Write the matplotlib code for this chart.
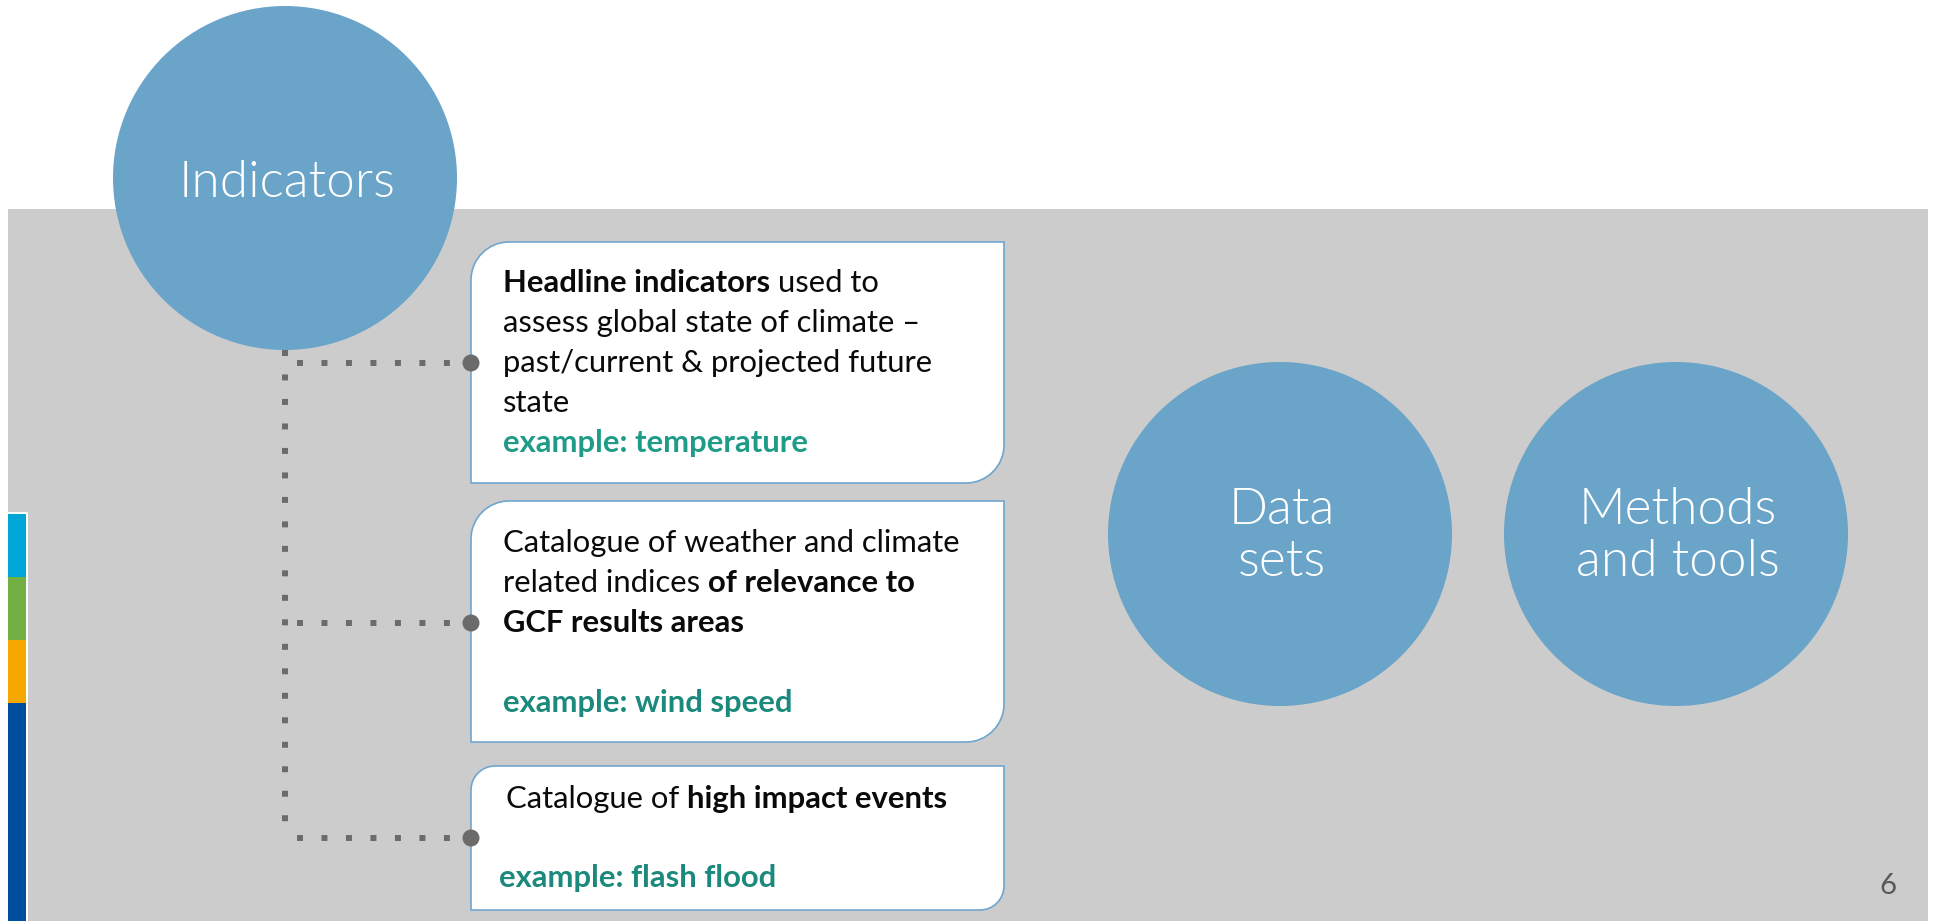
import matplotlib.pyplot as plt
import matplotlib.patches as mpatches
from matplotlib.path import Path
import numpy as np

W, H = 1937, 921
plt.rcParams['font.family'] = ['Lato', 'DejaVu Sans']

### content
circle_labels = ['Indicators', 'Data\nsets', 'Methods\nand tools']
circle_centres = [(285, 178), (1280, 534), (1676, 534)]
circle_r = 172

# each box: list of lines, each line a list of (text, bold?, colour key)
box_lines = [
    [[('Headline indicators', True, 'k'), (' used to', False, 'k')],
     [('assess global state of climate \u2013', False, 'k')],
     [('past/current & projected future', False, 'k')],
     [('state', False, 'k')],
     [('example: temperature', True, 't1')]],
    [[('Catalogue of weather and climate', False, 'k')],
     [('related indices ', False, 'k'), ('of relevance to', True, 'k')],
     [('GCF results areas', True, 'k')],
     [],
     [('example: wind speed', True, 't2')]],
    [[('Catalogue of ', False, 'k'), ('high impact events', True, 'k')],
     [],
     [('example: flash flood', True, 't2')]],
]
box_rects = [(471, 242, 1004, 483), (471, 501, 1004, 742), (471, 766, 1004, 910)]
box_radius = [38, 38, 24]
box_text_x = [[503]*5, [503]*5, [506, 506, 499]]
box_first_base = [292, 552, 808]
line_gap = [40, 40, 39.5]
dot_y = [363, 623, 838]

strip_cols = ['#00a6d6', '#72b043', '#f7a800', '#004f9e']
strip_edges = [514, 577, 640, 703, 921]

colours = {'k': '#0a0a0a', 't1': '#1f9c88', 't2': '#1b8a7c'}
circle_col = '#6aa4c8'
edge_col = '#6fa6cf'
dot_col = '#6b6b6b'
body_size = 22.3

fig = plt.figure(figsize=(W/100, H/100), dpi=100)
fig.patch.set_facecolor('white')
ax = fig.add_axes([0, 0, 1, 1])
ax.set_xlim(0, W)
ax.set_ylim(H, 0)
ax.axis('off')

# grey panel
ax.add_patch(mpatches.Rectangle((8, 209), 1920, H-209, fc='#cccccc', ec='none', zorder=0))

# colour strip at the left
ax.add_patch(mpatches.Rectangle((8, strip_edges[0]-2), 20, H, fc='white', ec='none', zorder=1))
for c, y0, y1 in zip(strip_cols, strip_edges[:-1], strip_edges[1:]):
    ax.add_patch(mpatches.Rectangle((8, y0), 18, y1-y0, fc=c, ec='none', zorder=2))

# circles
for (cx, cy), lab in zip(circle_centres, circle_labels):
    ax.add_patch(mpatches.Circle((cx, cy), circle_r, fc=circle_col, ec='none', zorder=3))
    dy = 5 if '\n' not in lab else 2
    ax.text(cx+2, cy+dy, lab, ha='center', va='center', color='white', fontsize=37,
            fontweight=300, linespacing=1.17, zorder=4)

# dotted connectors
dot_kw = dict(color=dot_col, lw=4.3, ls=(0, (1, 3.1)), solid_capstyle='butt',
              dash_capstyle='butt', zorder=2)
ax.plot([285, 285], [350, 839], **dot_kw)
for y in dot_y:
    ax.plot([297, 460], [y, y], **dot_kw)


def box_path(x0, y0, x1, y1, r):
    k = 0.5523 * r
    verts = [(x0+r, y0), (x1, y0), (x1, y1-r),
             (x1, y1-r+k), (x1-r+k, y1), (x1-r, y1),
             (x0, y1), (x0, y0+r),
             (x0, y0+r-k), (x0+r-k, y0), (x0+r, y0),
             (x0+r, y0)]
    codes = [Path.MOVETO, Path.LINETO, Path.LINETO,
             Path.CURVE4, Path.CURVE4, Path.CURVE4,
             Path.LINETO, Path.LINETO,
             Path.CURVE4, Path.CURVE4, Path.CURVE4,
             Path.CLOSEPOLY]
    return Path(verts, codes)


renderer = fig.canvas.get_renderer()


def text_w(s, bold):
    t = ax.text(0, 0, s, fontsize=body_size, fontweight='bold' if bold else 'normal')
    w = t.get_window_extent(renderer).width
    t.remove()
    return w


def space_w(bold):
    return text_w('a a', bold) - text_w('aa', bold)


for i, (x0, y0, x1, y1) in enumerate(box_rects):
    ax.add_patch(mpatches.PathPatch(box_path(x0, y0, x1, y1, box_radius[i]),
                                    fc='white', ec=edge_col, lw=1.2, zorder=3))
    ax.add_patch(mpatches.Circle((x0, dot_y[i]), 8.5, fc=dot_col, ec='none', zorder=4))
    for j, line in enumerate(box_lines[i]):
        x = box_text_x[i][j]
        y = box_first_base[i] + j*line_gap[i]
        for s, bold, ck in line:
            core = s.strip(' ')
            x += (len(s) - len(s.lstrip(' '))) * space_w(bold)
            ax.text(x, y, core, fontsize=body_size, va='baseline', ha='left',
                    fontweight='bold' if bold else 'normal', color=colours[ck], zorder=5)
            x += text_w(core, bold)
            x += (len(s) - len(s.rstrip(' '))) * space_w(bold)

# page number
ax.text(1888, 894, '6', ha='center', va='baseline', fontsize=21, color='#595959')

fig.savefig('out.png', dpi=100)
